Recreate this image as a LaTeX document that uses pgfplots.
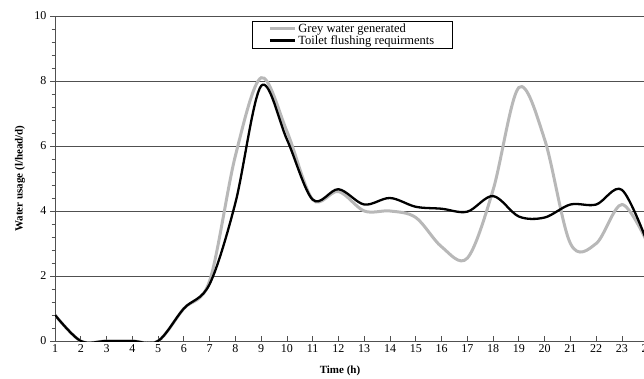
\documentclass[border=0pt]{standalone}
\usepackage{fontspec}
\setmainfont{Liberation Serif}
\usepackage{pgfplots}
\pgfplotsset{compat=1.18}
\definecolor{greyline}{HTML}{B8B8B8}
\definecolor{axgrey}{HTML}{505050}
\begin{document}
\begin{tikzpicture}
\begin{axis}[
  at={(55pt,37pt)}, anchor=south west,
  scale only axis,
  width=605.6pt, height=325pt,
  xmin=1, xmax=24.5, ymin=0, ymax=10,
  axis x line*=bottom, axis y line*=left,
  axis line style={axgrey, line width=0.9pt},
  xtick={1,...,24},
  ytick={0,2,4,6,8,10},
  minor y tick num=4,
  xtick align=inside, ytick align=outside,
  major tick length=5pt, minor tick length=3.5pt,
  tick style={axgrey, line width=0.8pt},
  ymajorgrids,
  grid style={axgrey, line width=0.9pt},
  /pgf/number format/assume math mode=true,
  ticklabel style={font=\fontsize{12}{14}\selectfont},
  xlabel={\textbf{Time (h)}},
  ylabel={\textbf{Water usage (l/head/d)}},
  label style={font=\fontsize{11}{13}\selectfont},
  xlabel style={at={(axis description cs:0.4706,-0.092)}, anchor=center},
  ylabel style={at={(axis description cs:-0.0578,0.5)}, anchor=center},
  legend style={at={(axis description cs:0.3253,0.985)}, anchor=north west,
    draw=black, line width=0.8pt, fill=white, font=\fontsize{12.5}{14}\selectfont,
    inner xsep=16pt, inner ysep=0.5pt, row sep=-2.5pt},
  legend cell align=left,
  legend image code/.code={\draw[#1] (0pt,0pt) -- (25pt,0pt);},
]
\addplot[greyline, line width=3pt, smooth, tension=0.55] coordinates {
(1,0.8) (2,0) (3,0) (4,0) (5,0) (6,1.0) (7,1.85) (8,5.7) (9,8.1) (10,6.45)
(11,4.35) (12,4.6) (13,4.0) (14,4.0) (15,3.8) (16,2.9) (17,2.55) (18,4.65)
(19,7.8) (20,6.2) (21,3.0) (22,3.0) (23,4.2) (24,3.0)};
\addlegendentry{Grey water generated}
\addplot[black, line width=2.3pt, smooth, tension=0.55] coordinates {
(1,0.8) (2,0) (3,0) (4,0) (5,0) (6,1.0) (7,1.75) (8,4.25) (9,7.85) (10,6.2)
(11,4.35) (12,4.67) (13,4.2) (14,4.4) (15,4.13) (16,4.07) (17,3.98) (18,4.46)
(19,3.83) (20,3.8) (21,4.2) (22,4.2) (23,4.65) (24,3.0)};
\addlegendentry{Toilet flushing requirments}
\end{axis}
\pgfresetboundingbox
\useasboundingbox (0,0) rectangle (644pt,378pt);
\end{tikzpicture}
\end{document}
